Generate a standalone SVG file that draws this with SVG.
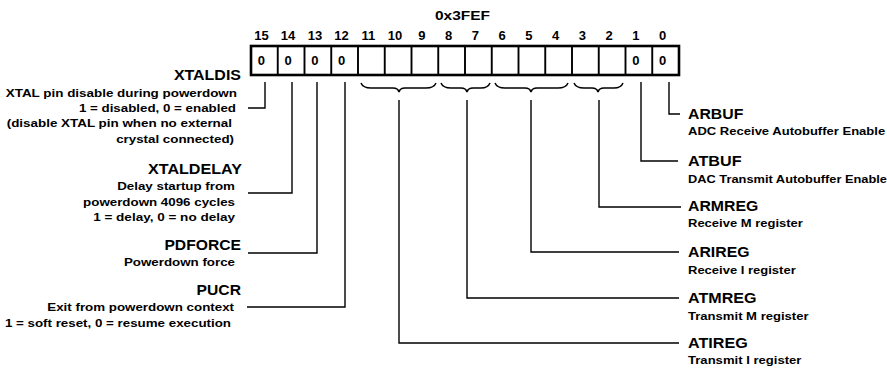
<svg xmlns="http://www.w3.org/2000/svg" width="887" height="368" viewBox="0 0 887 368">
<style>
text{font-family:"Liberation Sans",Arial,Helvetica,sans-serif;font-weight:bold;fill:#000}
.t{font-size:12.5px}
.n{font-size:13px;text-anchor:middle}
.z{font-size:13px;text-anchor:middle}
.h{font-size:14px}
.d{font-size:10.5px}
.dr{font-size:10px}
.box{fill:#fff;stroke:#000;stroke-width:2.6}
.div{stroke:#000;stroke-width:1.9;fill:none}
.c{stroke:#000;stroke-width:1.4;fill:none}
.br{stroke:#000;stroke-width:1.5;fill:none}
</style>
<rect width="887" height="368" fill="#fff"/>
<g id="register">
<text class="t" x="435" y="20" textLength="55" lengthAdjust="spacingAndGlyphs">0x3FEF</text>
<g id="bitnumbers">
<text class="n" x="261.4" y="40">15</text>
<text class="n" x="288.1" y="40">14</text>
<text class="n" x="314.9" y="40">13</text>
<text class="n" x="341.6" y="40">12</text>
<text class="n" x="368.4" y="40">11</text>
<text class="n" x="395.1" y="40">10</text>
<text class="n" x="421.9" y="40">9</text>
<text class="n" x="448.6" y="40">8</text>
<text class="n" x="475.4" y="40">7</text>
<text class="n" x="502.1" y="40">6</text>
<text class="n" x="528.9" y="40">5</text>
<text class="n" x="555.6" y="40">4</text>
<text class="n" x="582.4" y="40">3</text>
<text class="n" x="609.1" y="40">2</text>
<text class="n" x="635.9" y="40">1</text>
<text class="n" x="662.6" y="40">0</text>
</g>
<rect class="box" x="251" y="46" width="428" height="29"/>
<path class="div" d="M277.75,46V75M304.5,46V75M331.25,46V75M358,46V75M384.75,46V75M411.5,46V75M438.25,46V75M465,46V75M491.75,46V75M518.5,46V75M545.25,46V75M572,46V75M598.75,46V75M625.5,46V75M652.25,46V75"/>
<text class="z" x="261.4" y="65">0</text>
<text class="z" x="288.1" y="65">0</text>
<text class="z" x="314.9" y="65">0</text>
<text class="z" x="341.6" y="65">0</text>
<text class="z" x="635.9" y="65">0</text>
<text class="z" x="662.6" y="65">0</text>
</g>
<g id="connectors">
<path class="c" d="M265,82V108H248"/>
<path class="c" d="M292,82V193H248"/>
<path class="c" d="M317,82V253H248"/>
<path class="c" d="M345,82V307H247"/>
<path class="c" d="M399,100V343H679"/>
<path class="c" d="M467,100V298H679"/>
<path class="c" d="M531,100V252H679"/>
<path class="c" d="M599,100V207H681"/>
<path class="c" d="M641,82V161H678"/>
<path class="c" d="M669,82V114H680"/>
<path class="br" d="M361,83Q363,88 371,88L393,88Q398,88 399,92Q400,88 405,88L426,88Q434,88 436,83"/>
<path class="br" d="M441,83Q443,88 451,88L461,88Q466,88 467,92Q468,88 473,88L481,88Q488,88 490,83"/>
<path class="br" d="M495,83Q497,88 505,88L525,88Q530,88 531,92Q532,88 537,88L558,88Q566,88 568,83"/>
<path class="br" d="M574,83Q576,88 584,88L592,88Q597,88 598,92Q599,88 604,88L614,88Q621,88 623,83"/>
</g>
<g id="xtaldis">
<text class="h" x="173.9" y="80" textLength="67.1" lengthAdjust="spacingAndGlyphs">XTALDIS</text>
<text class="d" x="5.8" y="97" textLength="231.2" lengthAdjust="spacingAndGlyphs">XTAL pin disable during powerdown</text>
<text class="d" x="78.9" y="112" textLength="157.1" lengthAdjust="spacingAndGlyphs">1 = disabled, 0 = enabled</text>
<text class="d" x="6.7" y="127" textLength="225.3" lengthAdjust="spacingAndGlyphs">(disable XTAL pin when no external</text>
<text class="d" x="116.2" y="143" textLength="117.8" lengthAdjust="spacingAndGlyphs">crystal connected)</text>
</g>
<g id="xtaldelay">
<text class="h" x="148" y="174" textLength="94" lengthAdjust="spacingAndGlyphs">XTALDELAY</text>
<text class="d" x="117.2" y="190" textLength="117.8" lengthAdjust="spacingAndGlyphs">Delay startup from</text>
<text class="d" x="83.1" y="206" textLength="151.9" lengthAdjust="spacingAndGlyphs">powerdown 4096 cycles</text>
<text class="d" x="93.2" y="221" textLength="141.8" lengthAdjust="spacingAndGlyphs">1 = delay, 0 = no delay</text>
</g>
<g id="pdforce">
<text class="h" x="164.4" y="250" textLength="76.6" lengthAdjust="spacingAndGlyphs">PDFORCE</text>
<text class="d" x="123.9" y="266" textLength="111.1" lengthAdjust="spacingAndGlyphs">Powerdown force</text>
</g>
<g id="pucr">
<text class="h" x="196.6" y="295" textLength="44.4" lengthAdjust="spacingAndGlyphs">PUCR</text>
<text class="d" x="47.3" y="311" textLength="186.7" lengthAdjust="spacingAndGlyphs">Exit from powerdown context</text>
<text class="d" x="4.9" y="327" textLength="226.1" lengthAdjust="spacingAndGlyphs">1 = soft reset, 0 = resume execution</text>
</g>
<g id="arbuf">
<text class="h" x="688" y="119" textLength="55.3" lengthAdjust="spacingAndGlyphs">ARBUF</text>
<text class="dr" x="688" y="135" textLength="197.2" lengthAdjust="spacingAndGlyphs">ADC Receive Autobuffer Enable</text>
</g>
<g id="atbuf">
<text class="h" x="688" y="166" textLength="53.6" lengthAdjust="spacingAndGlyphs">ATBUF</text>
<text class="dr" x="688" y="183" textLength="199" lengthAdjust="spacingAndGlyphs">DAC Transmit Autobuffer Enable</text>
</g>
<g id="armreg">
<text class="h" x="688" y="211" textLength="70.3" lengthAdjust="spacingAndGlyphs">ARMREG</text>
<text class="dr" x="688" y="227" textLength="114.9" lengthAdjust="spacingAndGlyphs">Receive M register</text>
</g>
<g id="arireg">
<text class="h" x="688" y="257" textLength="61.5" lengthAdjust="spacingAndGlyphs">ARIREG</text>
<text class="dr" x="688" y="274" textLength="107.7" lengthAdjust="spacingAndGlyphs">Receive I register</text>
</g>
<g id="atmreg">
<text class="h" x="688" y="303" textLength="68.5" lengthAdjust="spacingAndGlyphs">ATMREG</text>
<text class="dr" x="688" y="320" textLength="120.6" lengthAdjust="spacingAndGlyphs">Transmit M register</text>
</g>
<g id="atireg">
<text class="h" x="688" y="348" textLength="59.7" lengthAdjust="spacingAndGlyphs">ATIREG</text>
<text class="dr" x="688" y="364" textLength="113.4" lengthAdjust="spacingAndGlyphs">Transmit I register</text>
</g>
</svg>
